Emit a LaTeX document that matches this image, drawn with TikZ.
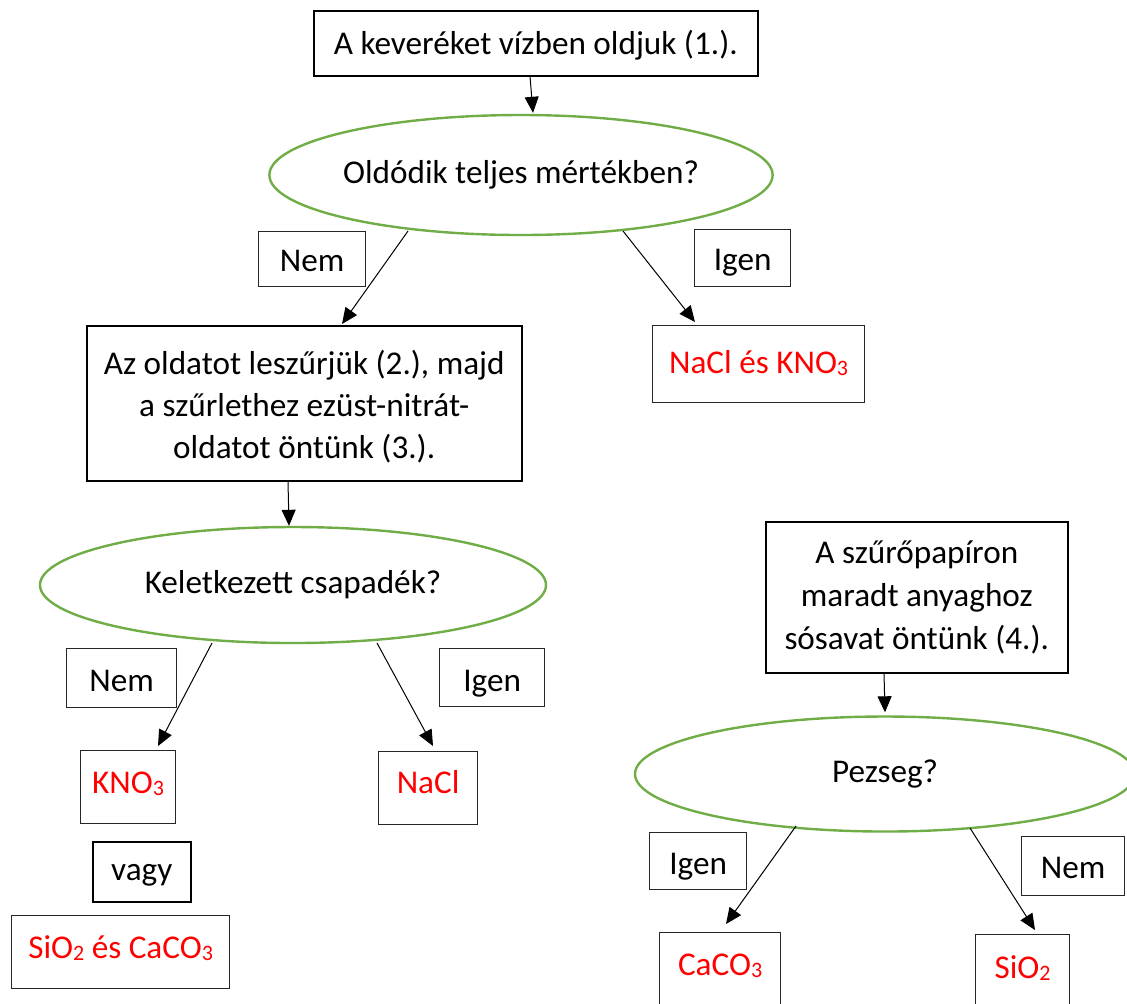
\documentclass[tikz,border=0pt]{standalone}
\usepackage{fontspec}
\setmainfont{Carlito}
\usetikzlibrary{shapes.geometric,arrows.meta,calc}
\definecolor{ogreen}{HTML}{70AD47}
\newcommand\sbs[1]{\raisebox{-1.2pt}{\fontsize{11}{11}\selectfont #1}}
\begin{document}
\begin{tikzpicture}[x=0.5pt,y=-0.5pt,
  every node/.style={font=\fontsize{16.6}{21.5}\selectfont, inner sep=0pt},
  box/.style={draw=black, line width=0.75pt, anchor=north west, align=center},
  lbl/.style={draw=black!85, line width=0.6pt, anchor=north west},
  res/.style={draw=black!85, line width=0.6pt, anchor=north west, text=red},
  oval/.style={ellipse, draw=ogreen, line width=1.2pt},
  arr/.style={-{Triangle[length=8pt,width=7pt]}, line width=0.5pt}]
\useasboundingbox (0,0) rectangle (1127,1003);

% top box
\node[box, minimum width=222pt, text height=21.75pt, text depth=10.75pt] (b1) at (313,10) {A keveréket vízben oldjuk (1.).};
\node[oval, minimum width=251pt, minimum height=60pt] (e1) at (521,175) {Oldódik teljes mértékben?};
\node[lbl, minimum width=53.5pt, text height=19.75pt, text depth=7.75pt] (n1) at (258,231) {Nem};
\node[lbl, minimum width=48pt, text height=20.25pt, text depth=8.25pt] (i1) at (694,229) {Igen};
\node[draw=black, line width=0.75pt, anchor=north west, minimum width=217.5pt, text height=45.4pt, text depth=32.1pt] (b2) at (86,325) {\begin{tabular}{@{}c@{}}Az oldatot leszűrjük (2.), majd\\[-0.3pt]a szűrlethez ezüst-nitrát-\\[-0.3pt]oldatot öntünk (3.).\end{tabular}};
\node[res, minimum width=106pt, text height=23.75pt, text depth=14.75pt] (r1) at (652,325) {NaCl és KNO\sbs{3}};

% second decision
\node[oval, minimum width=253pt, minimum height=58pt] (e2) at (293,585) {Keletkezett csapadék?};
\node[lbl, minimum width=55pt, text height=21.25pt, text depth=8.25pt] (n2) at (66,648) {Nem};
\node[lbl, minimum width=52.5pt, text height=21.25pt, text depth=7.75pt] (i2) at (439,648) {Igen};
\node[res, minimum width=47.5pt, text height=21.25pt, text depth=15.25pt] (r2) at (80,750) {KNO\sbs{3}};
\node[res, minimum width=49.5pt, text height=20.75pt, text depth=15.75pt] (r3) at (378,751) {NaCl};
\node[lbl, draw=black, line width=0.75pt, minimum width=49pt, text height=19.5pt, text depth=10.5pt] (v) at (92,841) {vagy};
\node[res, minimum width=109pt, text height=21.25pt, text depth=15.25pt] (r4) at (11,915) {SiO\sbs{2} és CaCO\sbs{3}};

% third branch
\node[box, minimum width=151pt, minimum height=75.5pt] (b4) at (765,521) {A szűrőpapíron\\maradt anyaghoz\\sósavat öntünk (4.).};
\node[oval, minimum width=250pt, minimum height=57.5pt] (e3) at (885,774) {Pezseg?};
\node[lbl, minimum width=48.5pt, text height=20.75pt, text depth=7.75pt] (i3) at (649,832) {Igen};
\node[lbl, minimum width=51.5pt, text height=20.75pt, text depth=8.75pt] (n3) at (1021,836) {Nem};
\node[res, minimum width=60.5pt, text height=21.25pt, text depth=17.75pt] (r5) at (659,932) {CaCO\sbs{3}};
\node[res, minimum width=47pt, text height=21.75pt, text depth=16.25pt] (r6) at (975,934) {SiO\sbs{2}};

% connectors
\draw[arr] ($(b1.south west)+(217,0)$) -- ($(e1.north)+(12,-1)$);
\draw[arr] ($(e1.center)+(-113,56)$) -- ($(b2.north west)+(256,-1)$);
\draw[arr] ($(e1.center)+(102,56)$) -- ($(r1.north west)+(43,-3)$);
\draw[arr] ($(b2.south west)+(202,0)$) -- ($(e2.north)+(-4,0)$);
\draw[arr] ($(e2.center)+(-81,58)$) -- ($(r2.north west)+(78,-4)$);
\draw[arr] ($(e2.center)+(84,58)$) -- ($(r3.north west)+(55,-5)$);
\draw[arr] ($(b4.south west)+(119,0)$) -- ($(e3.north)+(0,-3)$);
\draw[arr] ($(e3.center)+(-89,52)$) -- ($(r5.north west)+(67,-8)$);
\draw[arr] ($(e3.center)+(85,54)$) -- ($(r6.north west)+(60,-4)$);
\end{tikzpicture}
\end{document}
